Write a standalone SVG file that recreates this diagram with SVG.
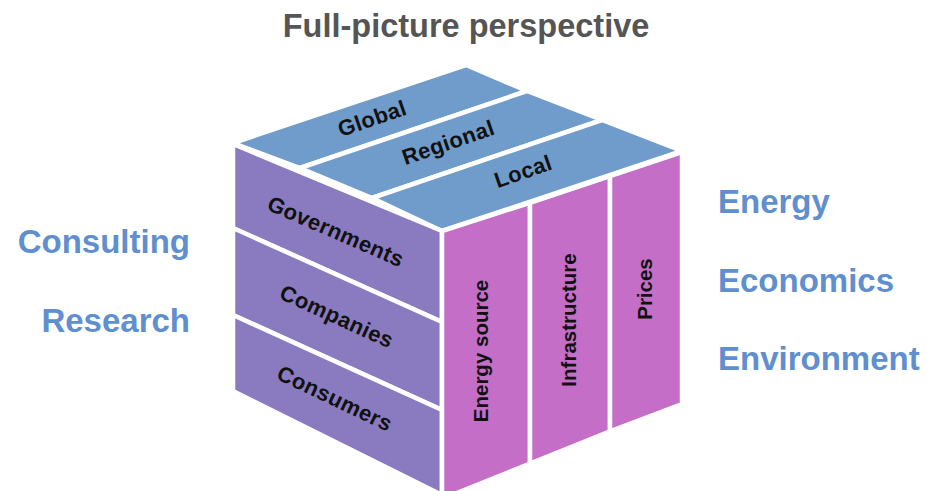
<svg xmlns="http://www.w3.org/2000/svg" width="929" height="491" viewBox="0 0 929 491">
  <style>
    .face { stroke: #ffffff; stroke-width: 4.5; stroke-linejoin: miter; }
    .top { fill: #6f9ccb; }
    .left { fill: #8a7bc1; }
    .right { fill: #c46ec7; }
    .lbl { font-family: "Liberation Sans", Arial, sans-serif; font-weight: bold; font-size: 22px; letter-spacing: 0.4px; fill: #111111; text-anchor: middle; }
    .vlbl { font-family: "Liberation Sans", Arial, sans-serif; font-weight: bold; font-size: 20.5px; fill: #111111; text-anchor: middle; }
    .side { font-family: "Liberation Sans", Arial, sans-serif; font-weight: bold; font-size: 33px; fill: #5f8fcf; }
    .title { font-family: "Liberation Sans", Arial, sans-serif; font-weight: bold; font-size: 32.5px; fill: #555555; text-anchor: middle; }
  </style>
  <rect width="929" height="491" fill="#ffffff"/>
  <text class="title" x="466" y="37">Full-picture perspective</text>

  <g id="global">
    <polygon class="face top" points="233,143 466,65 527,91 300,168"/>
    <text class="lbl" transform="translate(372,118) rotate(-19)" y="8">Global</text>
  </g>
  <g id="regional">
    <polygon class="face top" points="300,168 527,91 602,120 372,198"/>
    <text class="lbl" transform="translate(448,142) rotate(-19)" y="8">Regional</text>
  </g>
  <g id="local">
    <polygon class="face top" points="372,198 602,120 682,151 442,231"/>
    <text class="lbl" transform="translate(523,171) rotate(-19)" y="8">Local</text>
  </g>

  <g id="governments">
    <polygon class="face left" points="233,144 442,231 442,322 233,228"/>
    <text class="lbl" transform="translate(336,231) rotate(23.5)" y="8">Governments</text>
  </g>
  <g id="companies">
    <polygon class="face left" points="233,228 442,322 442,410 233,315"/>
    <text class="lbl" transform="translate(337,316) rotate(24.5)" y="8">Companies</text>
  </g>
  <g id="consumers">
    <polygon class="face left" points="233,315 442,410 442,495 233,391"/>
    <text class="lbl" transform="translate(335,398) rotate(25.5)" y="8">Consumers</text>
  </g>

  <g id="energy-source">
    <polygon class="face right" points="442,231 530,202.8 530,463.5 442,499"/>
    <text class="vlbl" transform="translate(488,351) rotate(-90)">Energy source</text>
  </g>
  <g id="infrastructure">
    <polygon class="face right" points="530,202.8 610,176.2 610,431.3 530,463.5"/>
    <text class="vlbl" transform="translate(576,320) rotate(-90)">Infrastructure</text>
  </g>
  <g id="prices">
    <polygon class="face right" points="610,176.2 682,152 682,404 610,431.3"/>
    <text class="vlbl" transform="translate(652,289) rotate(-90)">Prices</text>
  </g>

  <g id="connectors"></g>

  <g id="left-labels">
    <text class="side" x="190" y="253" text-anchor="end">Consulting</text>
    <text class="side" x="190" y="332" text-anchor="end">Research</text>
  </g>
  <g id="right-labels">
    <text class="side" x="718" y="213">Energy</text>
    <text class="side" x="718" y="292">Economics</text>
    <text class="side" x="718" y="370">Environment</text>
  </g>
</svg>
